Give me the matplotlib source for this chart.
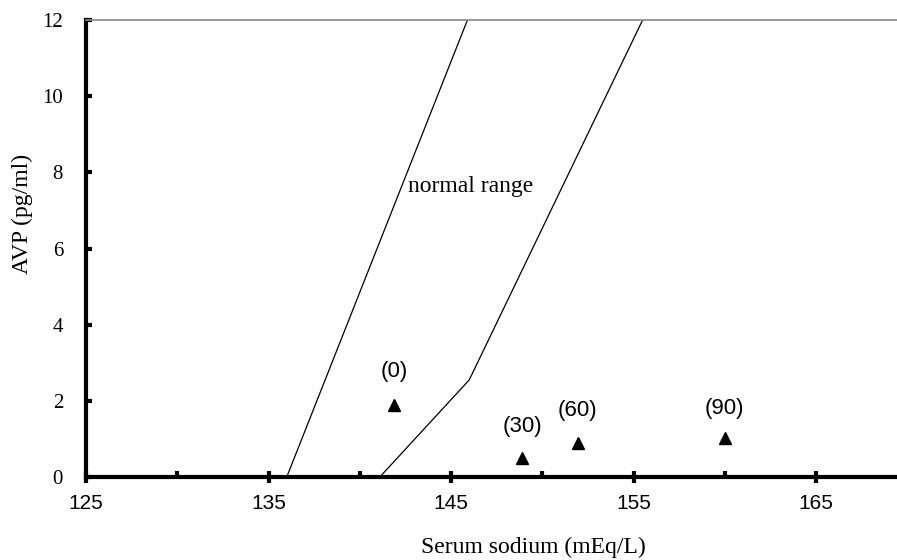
import matplotlib
matplotlib.use("Agg")
import matplotlib.pyplot as plt
from matplotlib.ticker import MultipleLocator

# Data
lower_x = [136.0, 145.9]
lower_y = [0, 12]
upper_x = [141.1, 146.0, 155.5]
upper_y = [0, 2.55, 12]
pt_x = [141.9, 148.9, 151.95, 160.0]
pt_y = [1.88, 0.5, 0.9, 1.02]
pt_labels = ["(0)", "(30)", "(60)", "(90)"]
label_y = [2.76, 1.32, 1.75, 1.80]
x_ticks = [125, 135, 145, 155, 165]
y_ticks = [0, 2, 4, 6, 8, 10, 12]

fig = plt.figure(figsize=(8.97, 5.60), dpi=100)
ax = fig.add_axes([86/897, 1-477/560, 1-86/897, (477-20)/560])

ax.plot(lower_x, lower_y, color="black", lw=0.9)
ax.plot(upper_x, upper_y, color="black", lw=0.9)
ax.plot(pt_x, pt_y, linestyle="none", marker="^", color="black", markersize=8.5)

for x, ly, lab in zip(pt_x, label_y, pt_labels):
    ax.text(x, ly, lab, ha="center", va="center", fontsize=16,
            family="Liberation Sans")

ax.text(146.05, 7.64, "normal range", ha="center", va="center", fontsize=17,
        family="Liberation Serif")

ax.set_xlim(125, 125 + 811/18.25)
ax.set_ylim(0, 12)
ax.set_xticks(x_ticks)
ax.xaxis.set_minor_locator(MultipleLocator(5))
ax.set_yticks(y_ticks)

for lab in ax.get_xticklabels():
    lab.set_family("Liberation Sans")
    lab.set_fontsize(15)
for lab in ax.get_yticklabels():
    lab.set_family("Liberation Serif")
    lab.set_fontsize(15)

ax.spines["left"].set_linewidth(3)
ax.spines["bottom"].set_linewidth(3)
ax.spines["right"].set_visible(False)
ax.spines["top"].set_color("#888888")
ax.spines["top"].set_linewidth(1.2)

ax.tick_params(axis="x", which="major", direction="inout", length=9, width=3, pad=8)
ax.tick_params(axis="x", which="minor", direction="in", length=4, width=3)
ax.tick_params(axis="y", which="major", direction="in", length=4, width=3, pad=16.5)

ax.set_xlabel("Serum sodium (mEq/L)", family="Liberation Serif", fontsize=17)
ax.xaxis.set_label_coords((533-86)/811, -(547-477)/457)
ax.xaxis.label.set_va("center")
ax.set_ylabel("AVP (pg/ml)", family="Liberation Serif", fontsize=17)
ax.yaxis.set_label_coords((22-86)/811, (477-214)/457)
ax.yaxis.label.set_va("center")

fig.savefig("out.png", dpi=100)
